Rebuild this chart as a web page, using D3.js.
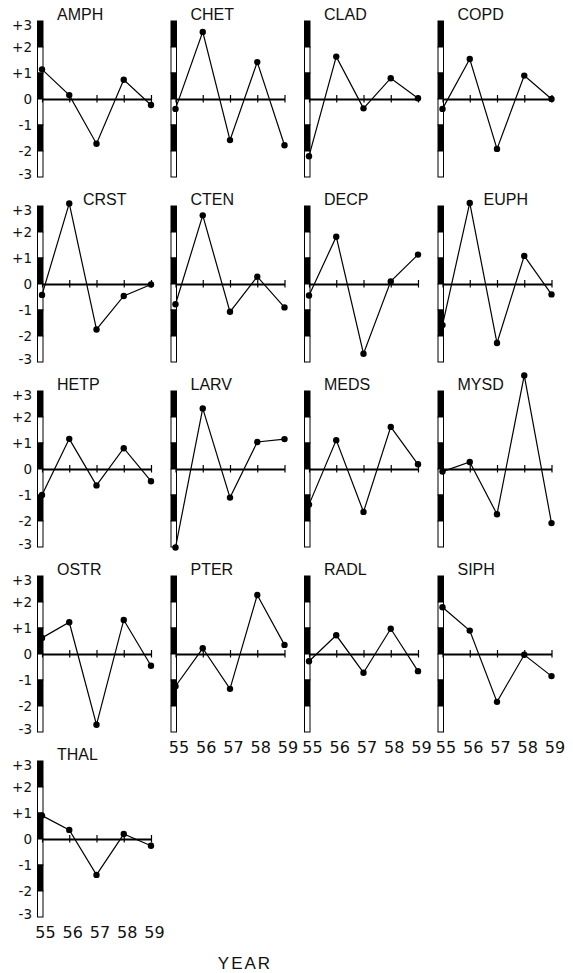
<!DOCTYPE html>
<html>
<head>
<meta charset="utf-8">
<script src="https://d3js.org/d3.v7.min.js"></script>
<style>
  body { margin: 0; background: #fff; }
  text { font-family: "Liberation Sans", Arial, sans-serif; fill: #111; }
  .num text { font-family: "DejaVu Sans", sans-serif; }
</style>
</head>
<body>
<div id="chart"></div>
<script>
  // Data: standardised anomaly per group, years 1955-1959
  var years = [55, 56, 57, 58, 59];
  var yTicks = [3, 2, 1, 0, -1, -2, -3];
  var groups = ["AMPH", "CHET", "CLAD", "COPD", "CRST", "CTEN", "DECP", "EUPH",
                "HETP", "LARV", "MEDS", "MYSD", "OSTR", "PTER", "RADL", "SIPH", "THAL"];

  var AMPH = [1.14, 0.15, -1.72, 0.74, -0.23];
  var CHET = [-0.38, 2.58, -1.58, 1.42, -1.78];
  var CLAD = [-2.2, 1.63, -0.36, 0.8, 0.03];
  var COPD = [-0.38, 1.54, -1.92, 0.9, 0.0];
  var CRST = [-0.42, 3.1, -1.75, -0.46, -0.02];
  var CTEN = [-0.78, 2.64, -1.07, 0.28, -0.9];
  var DECP = [-0.44, 1.82, -2.68, 0.1, 1.13];
  var EUPH = [-1.58, 3.12, -2.27, 1.08, -0.4];
  var HETP = [-1.0, 1.16, -0.63, 0.8, -0.47];
  var LARV = [-3.02, 2.33, -1.1, 1.04, 1.15];
  var MEDS = [-1.37, 1.11, -1.65, 1.62, 0.18];
  var MYSD = [-0.1, 0.27, -1.74, 3.6, -2.08];
  var OSTR = [0.62, 1.22, -2.72, 1.31, -0.45];
  var PTER = [-1.24, 0.22, -1.34, 2.27, 0.35];
  var RADL = [-0.28, 0.72, -0.72, 0.97, -0.66];
  var SIPH = [1.8, 0.9, -1.84, -0.03, -0.85];
  var THAL = [0.9, 0.35, -1.38, 0.19, -0.26];

  var values = [AMPH, CHET, CLAD, COPD, CRST, CTEN, DECP, EUPH,
                HETP, LARV, MEDS, MYSD, OSTR, PTER, RADL, SIPH, THAL];

  // titles pushed right where a point sits under the usual spot
  var shiftedTitles = ["CRST", "EUPH"];

  var W = 573, H = 973;
  var panelW = 109, panelH = 156;
  var colStep = 133.5, rowStep = 185;
  var marginLeft = 42, marginTop = 21;

  var svg = d3.select("#chart")
    .append("svg")
      .attr("width", W)
      .attr("height", H);

  var x = d3.scaleLinear().domain([55, 59]).range([0, panelW]);
  var y = d3.scaleLinear().domain([-3, 3]).range([panelH, 0]);

  var segments = d3.range(3, -3, -1); // 3,2,1,0,-1,-2 (top of each unit block)

  groups.forEach(function(name, i) {
    var col = i % 4, row = Math.floor(i / 4);
    var g = svg.append("g")
      .attr("transform", "translate(" + (marginLeft + col * colStep) + "," + (marginTop + row * rowStep) + ")");

    // striped vertical scale bar
    g.append("g")
      .selectAll("rect")
      .data(segments)
      .enter()
      .append("rect")
        .attr("x", -4.5)
        .attr("y", function(d) { return y(d); })
        .attr("width", 5.5)
        .attr("height", function(d) { return y(d - 1) - y(d); })
        .attr("fill", function(d) { return (d % 2 !== 0) ? "#000" : "#fff"; })
        .attr("stroke", "#000")
        .attr("stroke-width", 1);

    // zero line with crossing ticks
    var xAxis = d3.axisBottom(x)
      .tickValues(years)
      .tickSize(3.5)
      .tickSizeOuter(0)
      .tickFormat("");
    var ax = g.append("g")
      .attr("transform", "translate(0," + y(0) + ")")
      .call(xAxis);
    ax.select(".domain").attr("stroke", "#000").attr("stroke-width", 1.8);
    ax.selectAll(".tick line").attr("y1", -4).attr("stroke", "#000").attr("stroke-width", 1.2);

    // series line + dots
    var pts = values[i].map(function(v, k) { return [years[k], v]; });
    var line = d3.line()
      .x(function(d) { return x(d[0]); })
      .y(function(d) { return y(d[1]); });
    g.append("path")
      .datum(pts)
      .attr("d", line)
      .attr("fill", "none")
      .attr("stroke", "#000")
      .attr("stroke-width", 1.2);
    g.append("g")
      .selectAll("circle")
      .data(pts)
      .enter()
      .append("circle")
        .attr("cx", function(d) { return x(d[0]); })
        .attr("cy", function(d) { return y(d[1]); })
        .attr("r", 3.2)
        .attr("fill", "#000");

    // title
    g.append("text")
      .attr("x", shiftedTitles.indexOf(name) >= 0 ? 41 : 15)
      .attr("y", -1)
      .style("font-size", "16px")
      .text(name);

    // y tick labels on the first column
    if (col === 0) {
      var yAxis = d3.axisLeft(y)
        .tickValues(yTicks)
        .tickSize(0)
        .tickFormat(function(d) { return d > 0 ? "+" + d : (d < 0 ? "-" + (-d) : "0"); });
      var ya = g.append("g")
        .attr("class", "num")
        .attr("transform", "translate(-7,0)")
        .call(yAxis);
      ya.select(".domain").remove();
      ya.selectAll("text")
        .style("font-size", "13.5px")
        .attr("fill", "#111")
        .attr("dy", function(d) { return d === 3 ? "0.62em" : (d === -3 ? "0.1em" : "0.36em"); });
    }

    // year labels under the last panel of each column
    if (i + 4 >= groups.length) {
      var yearAxis = d3.axisBottom(x)
        .tickValues(years)
        .tickSize(0)
        .tickFormat(function(d) { return d; });
      var xa = g.append("g")
        .attr("class", "num")
        .attr("transform", "translate(3," + (panelH + 7) + ")")
        .call(yearAxis);
      xa.select(".domain").remove();
      xa.selectAll("text")
        .style("font-size", "16px")
        .attr("fill", "#111");
    }
  });

  svg.append("text")
    .attr("x", 245)
    .attr("y", 969)
    .attr("text-anchor", "middle")
    .style("font-size", "17px")
    .attr("letter-spacing", 2)
    .text("YEAR");
</script>
</body>
</html>
